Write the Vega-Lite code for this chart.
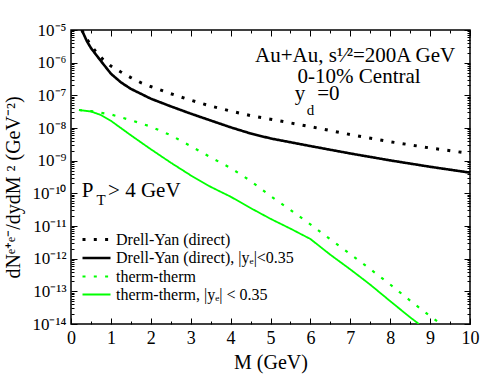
{
  "$schema": "https://vega.github.io/schema/vega-lite/v6.json",
  "width": 399,
  "height": 294,
  "autosize": {"type": "none"},
  "padding": {"left": 71, "top": 30, "right": 24, "bottom": 58},
  "background": "white",
  "config": {
    "font": "Liberation Serif",
    "view": {"stroke": "black", "strokeWidth": 1.5},
    "axis": {"labelFont": "Liberation Serif", "titleFont": "Liberation Serif", "labelColor": "black", "titleColor": "black", "tickColor": "black", "titleFontWeight": "normal", "grid": false, "domain": false, "tickWidth": 1},
    "legend": {"labelFont": "Liberation Serif"}
  },
  "datasets": {
    "curves": [
      {"series": "Drell-Yan (direct)", "M": 0.27, "v": 1.0e-5},
      {"series": "Drell-Yan (direct)", "M": 0.4, "v": 5.2e-6},
      {"series": "Drell-Yan (direct)", "M": 0.6, "v": 2.34e-6},
      {"series": "Drell-Yan (direct)", "M": 0.8, "v": 1.26e-6},
      {"series": "Drell-Yan (direct)", "M": 1.0, "v": 7.9e-7},
      {"series": "Drell-Yan (direct)", "M": 1.25, "v": 5.2e-7},
      {"series": "Drell-Yan (direct)", "M": 1.5, "v": 3.5e-7},
      {"series": "Drell-Yan (direct)", "M": 1.75, "v": 2.45e-7},
      {"series": "Drell-Yan (direct)", "M": 2.0, "v": 1.86e-7},
      {"series": "Drell-Yan (direct)", "M": 2.5, "v": 1.12e-7},
      {"series": "Drell-Yan (direct)", "M": 3.0, "v": 7.1e-8},
      {"series": "Drell-Yan (direct)", "M": 3.5, "v": 4.7e-8},
      {"series": "Drell-Yan (direct)", "M": 4.0, "v": 3.3e-8},
      {"series": "Drell-Yan (direct)", "M": 4.5, "v": 2.4e-8},
      {"series": "Drell-Yan (direct)", "M": 5.0, "v": 1.86e-8},
      {"series": "Drell-Yan (direct)", "M": 6.0, "v": 1.1e-8},
      {"series": "Drell-Yan (direct)", "M": 7.0, "v": 6.3e-9},
      {"series": "Drell-Yan (direct)", "M": 8.0, "v": 3.8e-9},
      {"series": "Drell-Yan (direct)", "M": 9.0, "v": 2.45e-9},
      {"series": "Drell-Yan (direct)", "M": 10.0, "v": 1.66e-9},
      {"series": "Drell-Yan (direct),  |yₑ|<0.35", "M": 0.27, "v": 1.0e-5},
      {"series": "Drell-Yan (direct),  |yₑ|<0.35", "M": 0.4, "v": 4.5e-6},
      {"series": "Drell-Yan (direct),  |yₑ|<0.35", "M": 0.5, "v": 2.8e-6},
      {"series": "Drell-Yan (direct),  |yₑ|<0.35", "M": 0.75, "v": 1.12e-6},
      {"series": "Drell-Yan (direct),  |yₑ|<0.35", "M": 1.0, "v": 4.6e-7},
      {"series": "Drell-Yan (direct),  |yₑ|<0.35", "M": 1.25, "v": 2.5e-7},
      {"series": "Drell-Yan (direct),  |yₑ|<0.35", "M": 1.5, "v": 1.58e-7},
      {"series": "Drell-Yan (direct),  |yₑ|<0.35", "M": 2.0, "v": 7.9e-8},
      {"series": "Drell-Yan (direct),  |yₑ|<0.35", "M": 2.5, "v": 4.6e-8},
      {"series": "Drell-Yan (direct),  |yₑ|<0.35", "M": 3.0, "v": 2.75e-8},
      {"series": "Drell-Yan (direct),  |yₑ|<0.35", "M": 3.5, "v": 1.7e-8},
      {"series": "Drell-Yan (direct),  |yₑ|<0.35", "M": 4.0, "v": 1.05e-8},
      {"series": "Drell-Yan (direct),  |yₑ|<0.35", "M": 4.5, "v": 6.8e-9},
      {"series": "Drell-Yan (direct),  |yₑ|<0.35", "M": 5.0, "v": 4.8e-9},
      {"series": "Drell-Yan (direct),  |yₑ|<0.35", "M": 6.0, "v": 2.8e-9},
      {"series": "Drell-Yan (direct),  |yₑ|<0.35", "M": 7.0, "v": 1.66e-9},
      {"series": "Drell-Yan (direct),  |yₑ|<0.35", "M": 8.0, "v": 1.02e-9},
      {"series": "Drell-Yan (direct),  |yₑ|<0.35", "M": 9.0, "v": 6.5e-10},
      {"series": "Drell-Yan (direct),  |yₑ|<0.35", "M": 10.0, "v": 4.3e-10},
      {"series": "therm-therm", "M": 0.2, "v": 3.55e-8},
      {"series": "therm-therm", "M": 0.5, "v": 3.3e-8},
      {"series": "therm-therm", "M": 1.0, "v": 2.6e-8},
      {"series": "therm-therm", "M": 1.5, "v": 1.74e-8},
      {"series": "therm-therm", "M": 2.0, "v": 1.1e-8},
      {"series": "therm-therm", "M": 2.5, "v": 6.0e-9},
      {"series": "therm-therm", "M": 3.0, "v": 2.8e-9},
      {"series": "therm-therm", "M": 3.5, "v": 1.26e-9},
      {"series": "therm-therm", "M": 4.0, "v": 6.0e-10},
      {"series": "therm-therm", "M": 4.5, "v": 2.4e-10},
      {"series": "therm-therm", "M": 5.0, "v": 8.3e-11},
      {"series": "therm-therm", "M": 5.5, "v": 3.1e-11},
      {"series": "therm-therm", "M": 6.0, "v": 1.12e-11},
      {"series": "therm-therm", "M": 6.5, "v": 3.9e-12},
      {"series": "therm-therm", "M": 7.0, "v": 1.38e-12},
      {"series": "therm-therm", "M": 7.5, "v": 4.8e-13},
      {"series": "therm-therm", "M": 8.0, "v": 1.62e-13},
      {"series": "therm-therm", "M": 8.5, "v": 5.2e-14},
      {"series": "therm-therm", "M": 9.0, "v": 1.74e-14},
      {"series": "therm-therm", "M": 9.27, "v": 1.0e-14},
      {"series": "therm-therm,  |yₑ| < 0.35", "M": 0.2, "v": 3.55e-8},
      {"series": "therm-therm,  |yₑ| < 0.35", "M": 0.5, "v": 3.2e-8},
      {"series": "therm-therm,  |yₑ| < 0.35", "M": 0.75, "v": 2.5e-8},
      {"series": "therm-therm,  |yₑ| < 0.35", "M": 1.0, "v": 1.66e-8},
      {"series": "therm-therm,  |yₑ| < 0.35", "M": 1.5, "v": 6.0e-9},
      {"series": "therm-therm,  |yₑ| < 0.35", "M": 2.0, "v": 2.24e-9},
      {"series": "therm-therm,  |yₑ| < 0.35", "M": 2.5, "v": 8.7e-10},
      {"series": "therm-therm,  |yₑ| < 0.35", "M": 3.0, "v": 3.55e-10},
      {"series": "therm-therm,  |yₑ| < 0.35", "M": 3.5, "v": 1.58e-10},
      {"series": "therm-therm,  |yₑ| < 0.35", "M": 4.0, "v": 7.9e-11},
      {"series": "therm-therm,  |yₑ| < 0.35", "M": 4.5, "v": 3.55e-11},
      {"series": "therm-therm,  |yₑ| < 0.35", "M": 5.0, "v": 1.66e-11},
      {"series": "therm-therm,  |yₑ| < 0.35", "M": 5.5, "v": 8.3e-12},
      {"series": "therm-therm,  |yₑ| < 0.35", "M": 6.0, "v": 4.0e-12},
      {"series": "therm-therm,  |yₑ| < 0.35", "M": 6.5, "v": 1.32e-12},
      {"series": "therm-therm,  |yₑ| < 0.35", "M": 7.0, "v": 4.7e-13},
      {"series": "therm-therm,  |yₑ| < 0.35", "M": 7.5, "v": 1.6e-13},
      {"series": "therm-therm,  |yₑ| < 0.35", "M": 8.0, "v": 5.0e-14},
      {"series": "therm-therm,  |yₑ| < 0.35", "M": 8.5, "v": 1.6e-14},
      {"series": "therm-therm,  |yₑ| < 0.35", "M": 8.72, "v": 1.0e-14}
    ],
    "bigText": [
      {"label": "Au+Au, s¹⁄²=200A GeV", "M": 7.12, "v": 1.05e-6},
      {"label": "0-10% Central", "M": 7.22, "v": 2.4e-7}
    ],
    "leftText": [
      {"label": "y", "M": 5.61, "v": 7.2e-8},
      {"label": "=0", "M": 6.17, "v": 7.2e-8},
      {"label": "P", "M": 0.27, "v": 7.8e-11},
      {"label": "> 4 GeV", "M": 0.93, "v": 7.8e-11}
    ],
    "subText": [
      {"label": "d", "M": 5.91, "v": 2.5e-8},
      {"label": "T", "M": 0.64, "v": 4.4e-11}
    ],
    "frame": [
      {"M": 0, "v": 1e-14},
      {"M": 10, "v": 1e-5}
    ]
  },
  "layer": [
    {
      "data": {"name": "curves"},
      "mark": {"type": "line", "clip": true, "strokeCap": "butt"},
      "encoding": {
        "x": {
          "field": "M", "type": "quantitative",
          "scale": {"domain": [0, 10], "nice": false, "zero": false},
          "axis": {
            "orient": "bottom",
            "title": "M (GeV)",
            "titleFontSize": 20,
            "titlePadding": 2,
            "labelFontSize": 18,
            "labelPadding": 11,
            "values": [0, 0.5, 1, 1.5, 2, 2.5, 3, 3.5, 4, 4.5, 5, 5.5, 6, 6.5, 7, 7.5, 8, 8.5, 9, 9.5, 10],
            "labelExpr": "datum.value % 1 === 0 ? format(datum.value, 'd') : ''",
            "labelFlush": false,
            "labelOverlap": false,
            "tickSize": {"condition": {"test": "datum.value % 1 === 0", "value": -6}, "value": -3}
          }
        },
        "y": {
          "field": "v", "type": "quantitative",
          "scale": {"type": "log", "domain": [1e-14, 1e-5], "nice": false},
          "axis": {
            "orient": "left",
            "title": "dNᵉ⁺ᵉ⁻/dydM ² (GeV⁻²)",
            "titleFontSize": 20,
            "titlePadding": 8,
            "titleY": 157,
            "labelFontSize": 17,
            "labelPadding": 11,
            "labelFlush": false,
            "labelOverlap": false,
            "values": [1e-14, 2e-14, 3e-14, 4e-14, 5e-14, 6e-14, 7e-14, 8e-14, 9e-14, 1e-13, 2e-13, 3e-13, 4e-13, 5e-13, 6e-13, 7e-13, 8e-13, 9e-13, 1e-12, 2e-12, 3e-12, 4e-12, 5e-12, 6e-12, 7e-12, 8e-12, 9e-12, 1e-11, 2e-11, 3e-11, 4e-11, 5e-11, 6e-11, 7e-11, 8e-11, 9e-11, 1e-10, 2e-10, 3e-10, 4e-10, 5e-10, 6e-10, 7e-10, 8e-10, 9e-10, 1e-9, 2e-9, 3e-9, 4e-9, 5e-9, 6e-9, 7e-9, 8e-9, 9e-9, 1e-8, 2e-8, 3e-8, 4e-8, 5e-8, 6e-8, 7e-8, 8e-8, 9e-8, 1e-7, 2e-7, 3e-7, 4e-7, 5e-7, 6e-7, 7e-7, 8e-7, 9e-7, 1e-6, 2e-6, 3e-6, 4e-6, 5e-6, 6e-6, 7e-6, 8e-6, 9e-6, 1e-5],
            "labelExpr": "abs(datum.value / pow(10, round(log(datum.value) / LN10)) - 1) < 1e-6 ? ('10⁻' + (-round(log(datum.value) / LN10) >= 10 ? '¹' : '') + ['⁰','¹','²','³','⁴','⁵','⁶','⁷','⁸','⁹'][(-round(log(datum.value) / LN10)) % 10]) : ''",
            "tickSize": {"condition": {"test": "abs(datum.value / pow(10, round(log(datum.value) / LN10)) - 1) < 1e-6", "value": -6}, "value": -3}
          }
        },
        "color": {
          "field": "series", "type": "nominal",
          "scale": {
            "domain": ["Drell-Yan (direct)", "Drell-Yan (direct),  |yₑ|<0.35", "therm-therm", "therm-therm,  |yₑ| < 0.35"],
            "range": ["black", "black", "#00ff00", "#00ff00"]
          },
          "legend": {
            "orient": "none",
            "legendX": 17,
            "legendY": 201,
            "title": null,
            "padding": 0,
            "labelFont": "Liberation Serif",
            "labelFontSize": 16,
            "labelColor": "black",
            "labelLimit": 400,
            "symbolType": "M-2,0H2",
            "symbolSize": 196,
            "symbolStrokeWidth": 2.5,
            "rowPadding": 1.5,
            "labelOffset": 11
          }
        },
        "strokeDash": {
          "field": "series", "type": "nominal",
          "scale": {
            "domain": ["Drell-Yan (direct)", "Drell-Yan (direct),  |yₑ|<0.35", "therm-therm", "therm-therm,  |yₑ| < 0.35"],
            "range": [[3, 8.3], [1, 0], [3, 8.3], [1, 0]]
          }
        },
        "strokeWidth": {
          "field": "series", "type": "nominal",
          "scale": {
            "domain": ["Drell-Yan (direct)", "Drell-Yan (direct),  |yₑ|<0.35", "therm-therm", "therm-therm,  |yₑ| < 0.35"],
            "range": [3, 1.8, 3, 1.8]
          }
        }
      }
    },
    {
      "data": {"name": "frame"},
      "mark": {"type": "point", "opacity": 0},
      "encoding": {
        "x": {
          "field": "M", "type": "quantitative",
          "scale": {"domain": [0, 10], "nice": false, "zero": false},
          "axis": {
            "orient": "top",
            "title": null,
            "labels": false,
            "values": [0, 0.5, 1, 1.5, 2, 2.5, 3, 3.5, 4, 4.5, 5, 5.5, 6, 6.5, 7, 7.5, 8, 8.5, 9, 9.5, 10],
            "tickSize": {"condition": {"test": "datum.value % 1 === 0", "value": -6}, "value": -3}
          }
        },
        "y": {
          "field": "v", "type": "quantitative",
          "scale": {"type": "log", "domain": [1e-14, 1e-5], "nice": false},
          "axis": {
            "orient": "right",
            "title": null,
            "labels": false,
            "values": [1e-14, 2e-14, 3e-14, 4e-14, 5e-14, 6e-14, 7e-14, 8e-14, 9e-14, 1e-13, 2e-13, 3e-13, 4e-13, 5e-13, 6e-13, 7e-13, 8e-13, 9e-13, 1e-12, 2e-12, 3e-12, 4e-12, 5e-12, 6e-12, 7e-12, 8e-12, 9e-12, 1e-11, 2e-11, 3e-11, 4e-11, 5e-11, 6e-11, 7e-11, 8e-11, 9e-11, 1e-10, 2e-10, 3e-10, 4e-10, 5e-10, 6e-10, 7e-10, 8e-10, 9e-10, 1e-9, 2e-9, 3e-9, 4e-9, 5e-9, 6e-9, 7e-9, 8e-9, 9e-9, 1e-8, 2e-8, 3e-8, 4e-8, 5e-8, 6e-8, 7e-8, 8e-8, 9e-8, 1e-7, 2e-7, 3e-7, 4e-7, 5e-7, 6e-7, 7e-7, 8e-7, 9e-7, 1e-6, 2e-6, 3e-6, 4e-6, 5e-6, 6e-6, 7e-6, 8e-6, 9e-6, 1e-5],
            "tickSize": {"condition": {"test": "abs(datum.value / pow(10, round(log(datum.value) / LN10)) - 1) < 1e-6", "value": -6}, "value": -3}
          }
        }
      }
    },
    {
      "data": {"name": "bigText"},
      "mark": {"type": "text", "font": "Liberation Serif", "fontSize": 21, "align": "center", "baseline": "alphabetic", "color": "black"},
      "encoding": {
        "x": {"field": "M", "type": "quantitative", "scale": {"domain": [0, 10], "nice": false, "zero": false}, "axis": null},
        "y": {"field": "v", "type": "quantitative", "scale": {"type": "log", "domain": [1e-14, 1e-5], "nice": false}, "axis": null},
        "text": {"field": "label"}
      }
    },
    {
      "data": {"name": "leftText"},
      "mark": {"type": "text", "font": "Liberation Serif", "fontSize": 21, "align": "left", "baseline": "alphabetic", "color": "black"},
      "encoding": {
        "x": {"field": "M", "type": "quantitative", "scale": {"domain": [0, 10], "nice": false, "zero": false}, "axis": null},
        "y": {"field": "v", "type": "quantitative", "scale": {"type": "log", "domain": [1e-14, 1e-5], "nice": false}, "axis": null},
        "text": {"field": "label"}
      }
    },
    {
      "data": {"name": "subText"},
      "mark": {"type": "text", "font": "Liberation Serif", "fontSize": 15, "align": "left", "baseline": "alphabetic", "color": "black"},
      "encoding": {
        "x": {"field": "M", "type": "quantitative", "scale": {"domain": [0, 10], "nice": false, "zero": false}, "axis": null},
        "y": {"field": "v", "type": "quantitative", "scale": {"type": "log", "domain": [1e-14, 1e-5], "nice": false}, "axis": null},
        "text": {"field": "label"}
      }
    }
  ],
  "resolve": {"axis": {"x": "independent", "y": "independent"}}
}
